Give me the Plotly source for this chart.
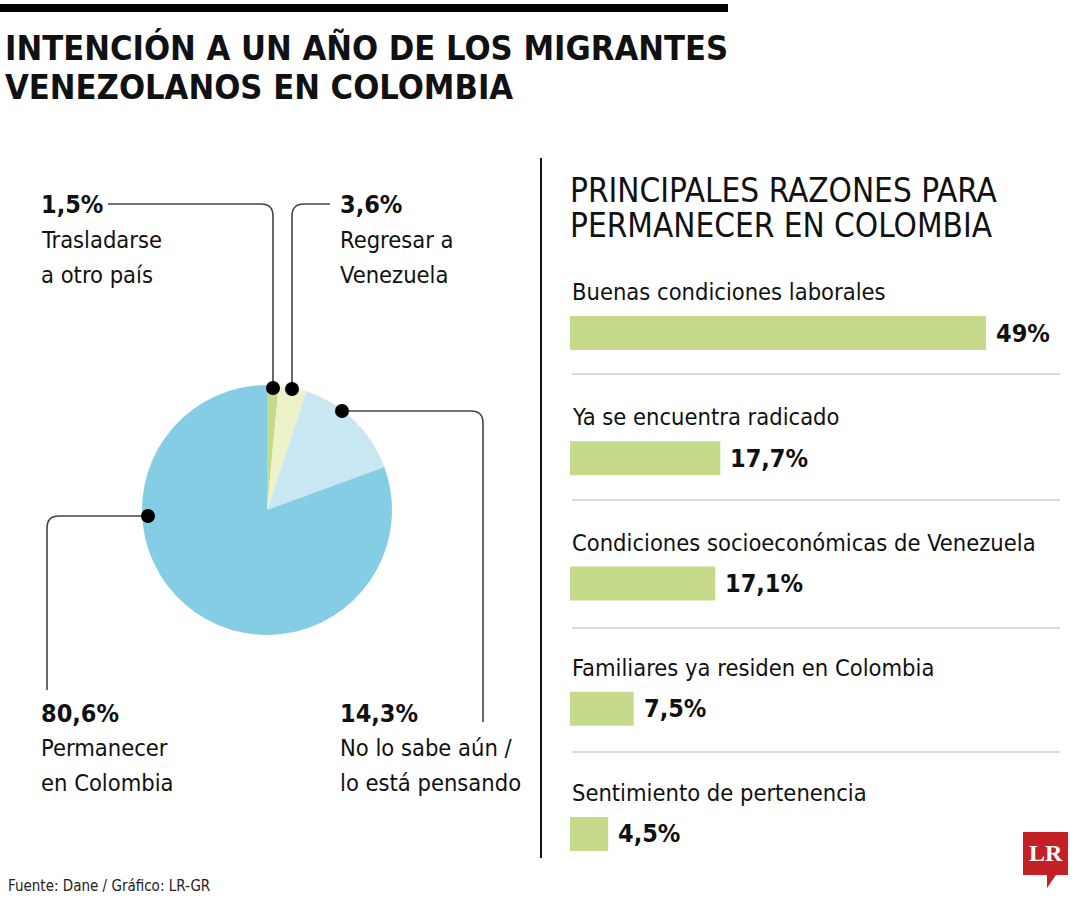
import plotly.graph_objects as go

W, H = 1080, 900

# ---------------- data ----------------
pie_labels = ["Trasladarse a otro país", "Regresar a Venezuela",
              "No lo sabe aún / lo está pensando", "Permanecer en Colombia"]
pie_values = [1.5, 3.6, 14.3, 80.6]
pie_colors = ["#c4d98b", "#edf2c8", "#c8e7f2", "#85cde5"]
pie_pct_text = ["1,5%", "3,6%", "14,3%", "80,6%"]

bar_categories = ["Buenas condiciones laborales", "Ya se encuentra radicado",
                  "Condiciones socioeconómicas de Venezuela",
                  "Familiares ya residen en Colombia", "Sentimiento de pertenencia"]
bar_values = [49, 17.7, 17.1, 7.5, 4.5]
bar_text = ["49%", "17,7%", "17,1%", "7,5%", "4,5%"]

FONT = "DejaVu Sans Condensed, Liberation Sans Narrow, sans-serif"

def px(x):
    return x / W

def py(y):
    return 1 - y / H

fig = go.Figure()

# pie
fig.add_trace(go.Pie(
    labels=pie_labels, values=pie_values, sort=False, direction="clockwise",
    rotation=0, marker=dict(colors=pie_colors, line=dict(width=0)),
    textinfo="none", hoverinfo="label+percent", showlegend=False,
    domain=dict(x=[px(142), px(392)], y=[py(635), py(385)]),
))

# bars
fig.add_trace(go.Bar(
    x=bar_values, y=bar_categories, orientation="h", xaxis="x2", yaxis="y2",
    marker=dict(color="#c5da8a", line=dict(width=0)), width=0.27,
    showlegend=False, hoverinfo="x+y",
))

fig.update_layout(
    width=W, height=H, margin=dict(l=0, r=0, t=0, b=0),
    paper_bgcolor="white", plot_bgcolor="white",
    font=dict(family=FONT, color="#111"),
    xaxis2=dict(domain=[px(570), px(1060)], range=[0, 57.7], visible=False,
                anchor="y2", fixedrange=True),
    yaxis2=dict(domain=[py(896.6), py(270.4)], type="category",
                categoryorder="array", categoryarray=bar_categories,
                autorange="reversed", visible=False, anchor="x2", fixedrange=True),
)

shapes = []
ann = []

# top black band
shapes.append(dict(type="rect", xref="paper", yref="paper", x0=0, x1=px(728),
                   y0=py(12), y1=py(4), fillcolor="#000", line=dict(width=0)))
# divider
shapes.append(dict(type="line", xref="paper", yref="paper", x0=px(541), x1=px(541),
                   y0=py(158), y1=py(858), line=dict(color="#111", width=2)))

# separators between bars
for ysep in [374, 500, 628, 752]:
    shapes.append(dict(type="line", xref="paper", yref="paper", x0=px(572), x1=px(1060),
                       y0=py(ysep), y1=py(ysep), line=dict(color="#b5b5b5", width=1.2)))

def path(points_cmds):
    out = []
    for cmd, pts in points_cmds:
        coords = [f"{px(x):.5f},{py(y):.5f}" for (x, y) in pts]
        out.append(cmd + " " + " ".join(coords))
    return " ".join(out)

leaders = [
    [("M", [(108, 204)]), ("L", [(261, 204)]), ("Q", [(273, 204), (273, 216)]), ("L", [(273, 388)])],
    [("M", [(330, 204)]), ("L", [(304, 204)]), ("Q", [(292, 204), (292, 216)]), ("L", [(292, 389)])],
    [("M", [(342, 411)]), ("L", [(471, 411)]), ("Q", [(483, 411), (483, 423)]), ("L", [(483, 722)])],
    [("M", [(148, 516)]), ("L", [(59, 516)]), ("Q", [(47, 516), (47, 528)]), ("L", [(47, 690)])],
]
for lp in leaders:
    shapes.append(dict(type="path", xref="paper", yref="paper", path=path(lp),
                       line=dict(color="#444", width=1.6)))

dots = [(273, 388), (292, 389), (342, 411), (148, 516)]
for (cx, cy) in dots:
    r = 7
    shapes.append(dict(type="circle", xref="paper", yref="paper",
                       x0=px(cx - r), x1=px(cx + r), y0=py(cy + r), y1=py(cy - r),
                       fillcolor="#000", line=dict(width=0)))

# titles
ann.append(dict(text="<b>INTENCIÓN A UN AÑO DE LOS MIGRANTES</b>", x=px(3), y=py(48),
                xanchor="left", yanchor="middle", font=dict(size=34.2, color="#111")))
ann.append(dict(text="<b>VENEZOLANOS EN COLOMBIA</b>", x=px(3), y=py(87),
                xanchor="left", yanchor="middle", font=dict(size=34.2, color="#111")))
ann.append(dict(text="PRINCIPALES RAZONES PARA", x=px(568), y=py(190),
                xanchor="left", yanchor="middle", font=dict(size=33, color="#111")))
ann.append(dict(text="PERMANECER EN COLOMBIA", x=px(568), y=py(226),
                xanchor="left", yanchor="middle", font=dict(size=33, color="#111")))

# pie labels (one annotation per line to keep the reference line spacing)
pie_label_lines = [["Trasladarse", "a otro país"], ["Regresar a", "Venezuela"],
                   ["No lo sabe aún /", "lo está pensando"], ["Permanecer", "en Colombia"]]
pie_label_pos = [(39, 205), (338, 205), (338, 713), (39, 713)]
for t, lines, (lx, ly) in zip(pie_pct_text, pie_label_lines, pie_label_pos):
    ann.append(dict(text=f"<b>{t}</b>", x=px(lx), y=py(ly), xanchor="left",
                    yanchor="middle", font=dict(size=25, color="#111")))
    for i, ln in enumerate(lines):
        ann.append(dict(text=ln, x=px(lx), y=py(ly + 35 * (i + 1)), xanchor="left",
                        yanchor="middle", font=dict(size=23.5, color="#111")))

# bar labels through bar axes
for cat, v, t in zip(bar_categories, bar_values, bar_text):
    ann.append(dict(text=cat, x=0, y=cat, xref="x2", yref="y2", xanchor="left",
                    yanchor="middle", yshift=41, xshift=0, font=dict(size=23.5, color="#111")))
    ann.append(dict(text=f"<b>{t}</b>", x=v, y=cat, xref="x2", yref="y2", xanchor="left",
                    yanchor="middle", xshift=8, font=dict(size=25, color="#111")))

# source
ann.append(dict(text="Fuente: Dane / Gráfico: LR-GR", x=px(6), y=py(886), xanchor="left",
                yanchor="middle", font=dict(size=15, color="#222")))

# LR logo
shapes.append(dict(type="path", xref="paper", yref="paper",
                   path=path([("M", [(1023, 832)]), ("L", [(1068, 832)]), ("L", [(1068, 875)]),
                              ("L", [(1056, 875)]), ("L", [(1047, 888)]), ("L", [(1047, 875)]),
                              ("L", [(1023, 875)])]) + " Z",
                   fillcolor="#c42127", line=dict(width=0)))
ann.append(dict(text="<b>LR</b>", x=px(1045.5), y=py(853), xanchor="center", yanchor="middle",
                font=dict(size=24, color="white", family="Liberation Serif, DejaVu Serif, serif")))

for a in ann:
    a.setdefault("xref", "paper")
    a.setdefault("yref", "paper")
    a["showarrow"] = False

fig.update_layout(shapes=shapes, annotations=ann)
fig.write_html("out.html", config={"displayModeBar": False},
               post_script="document.body.style.margin='0';document.body.style.overflow='hidden';")
